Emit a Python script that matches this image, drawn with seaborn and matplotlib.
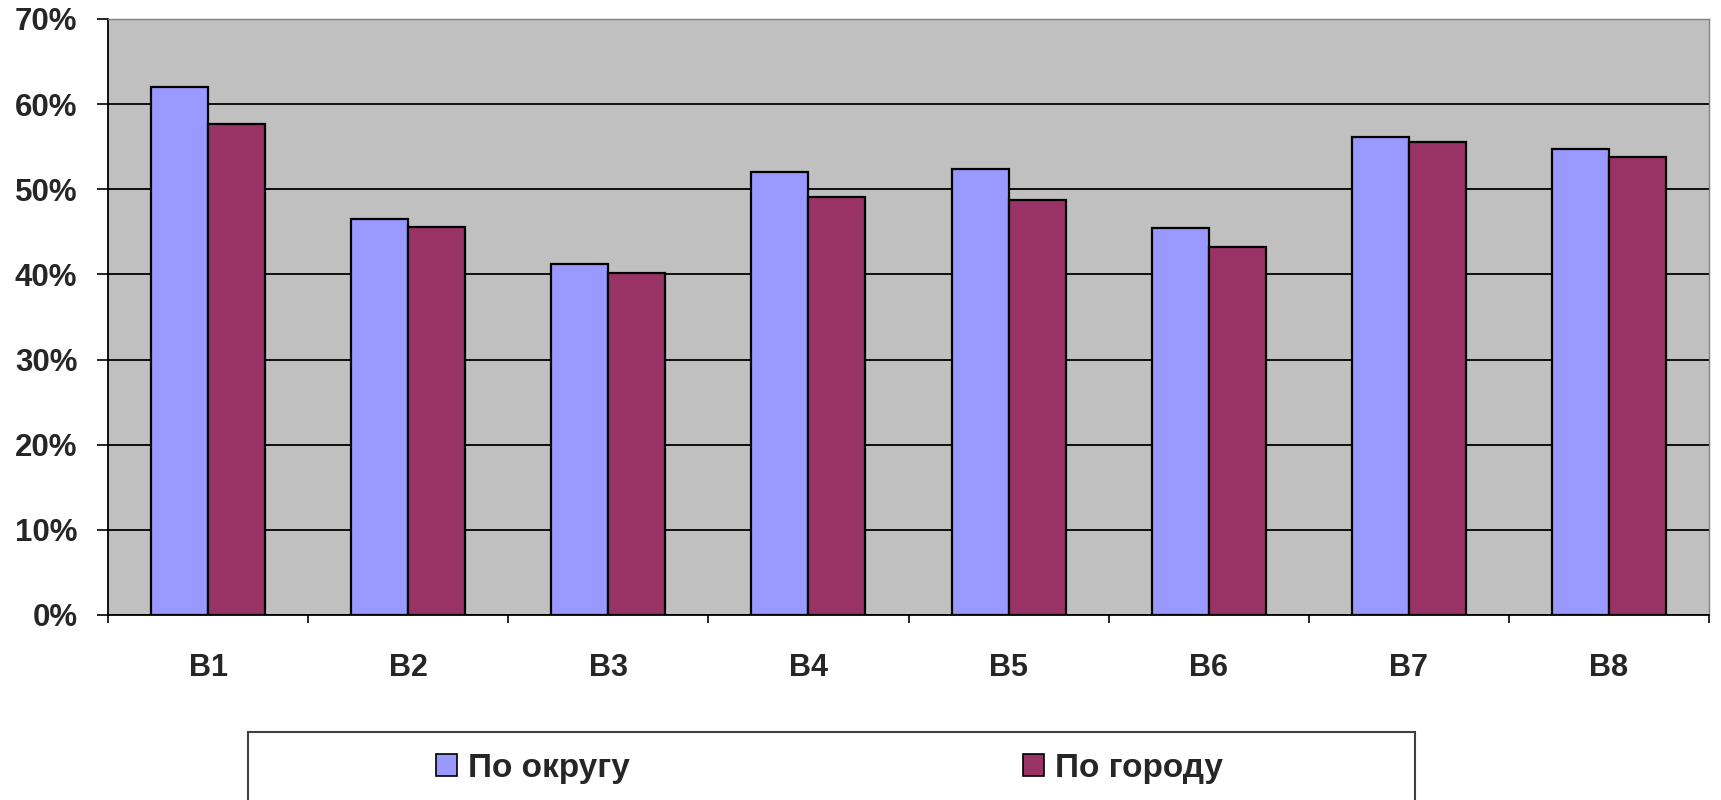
import matplotlib
matplotlib.use("Agg")
import matplotlib.pyplot as plt
import matplotlib.patches as mpatches
import numpy as np
import pandas as pd
import seaborn as sns
from matplotlib.ticker import FuncFormatter, FixedLocator

kategorii = ["B1", "B2", "B3", "B4", "B5", "B6", "B7", "B8"]
po_okrugu = [0.620, 0.465, 0.412, 0.520, 0.524, 0.455, 0.561, 0.547]
po_gorodu = [0.577, 0.456, 0.402, 0.491, 0.488, 0.432, 0.555, 0.538]
serii = ["По округу", "По городу"]
culori = ["#9999FF", "#993366"]

t = pd.DataFrame({
    "cat": kategorii * 2,
    "val": po_okrugu + po_gorodu,
    "serie": [serii[0]] * len(kategorii) + [serii[1]] * len(kategorii),
})

sns.set_style("white")
plt.rcParams["font.family"] = ["Liberation Sans", "DejaVu Sans"]
plt.rcParams["font.weight"] = "bold"

fig = plt.figure(figsize=(17.21, 8), dpi=100)
ax = fig.add_axes([108 / 1721, 1 - 615 / 800, (1709 - 108) / 1721, (615 - 19) / 800])
ax.set_facecolor("#C0C0C0")

sns.barplot(data=t, x="cat", y="val", hue="serie", hue_order=serii, palette=culori,
            width=0.57, edgecolor="black", linewidth=1.6, saturation=1, ax=ax, legend=False)

ax.set_xlim(-0.5, len(kategorii) - 0.5)
ax.set_ylim(0, 0.7)
ax.set_yticks(np.arange(0, 0.71, 0.1))
ax.yaxis.set_major_formatter(FuncFormatter(lambda v, p: f"{v * 100:.0f}%"))
ax.yaxis.grid(True, color="black", linewidth=1.3)
ax.set_axisbelow(True)
ax.set_xlabel("")
ax.set_ylabel("")

ax.xaxis.set_minor_locator(FixedLocator(np.arange(-0.5, len(kategorii), 1.0)))
ax.tick_params(axis="x", which="major", length=0, pad=27, labelsize=22)
ax.tick_params(axis="x", which="minor", length=6, width=1.2, color="black", direction="out", bottom=True)
ax.tick_params(axis="y", length=8, width=1.2, color="black", direction="out", left=True, pad=14, labelsize=22.5)
for lab in ax.get_xticklabels() + ax.get_yticklabels():
    lab.set_fontweight("bold")

for s in ["left", "bottom"]:
    ax.spines[s].set_color("black")
    ax.spines[s].set_linewidth(1.3)
for s in ["top", "right"]:
    ax.spines[s].set_color("#808080")
    ax.spines[s].set_linewidth(1.0)

# legend box
cadru = mpatches.Rectangle((248 / 1721, -0.01), (1415 - 248) / 1721, 0.01 + 68 / 800,
                           transform=fig.transFigure, facecolor="white", edgecolor="#404040",
                           linewidth=1.5, zorder=0)
fig.patches.append(cadru)

handles = [mpatches.Patch(facecolor=c, edgecolor="black", linewidth=1.2) for c in culori]
leg = fig.legend(handles, serii, loc="center left", bbox_to_anchor=(436 / 1721, 1 - 768 / 800),
                 ncol=2, frameon=False, borderpad=0, borderaxespad=0,
                 handlelength=0.63, handleheight=0.63, handletextpad=0.33, columnspacing=11.8,
                 prop={"family": ["Liberation Sans", "DejaVu Sans"], "weight": "bold", "size": 24})

fig.savefig("out.png", dpi=100, facecolor="white")
